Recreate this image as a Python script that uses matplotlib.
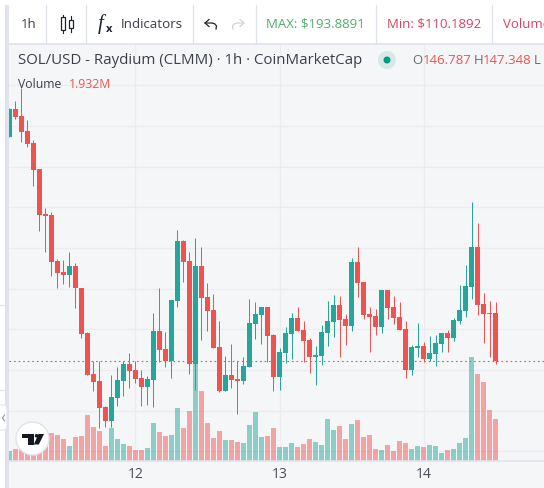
import matplotlib
matplotlib.use("Agg")
import matplotlib.pyplot as plt
from matplotlib.patches import Circle, FancyBboxPatch, Polygon, Rectangle

plt.rcParams["font.family"] = ["Open Sans", "DejaVu Sans"]

# candles
opens = [155.45, 156.83, 156.48, 155.74, 155.15, 153.88, 151.67, 151.62, 149.36, 148.82,
         148.67, 149.11, 148.03, 145.82, 143.80, 143.46, 142.18, 141.49, 142.62, 143.46,
         144.29, 144.00, 143.61, 143.17, 143.51, 145.92, 145.03, 144.44, 147.39, 150.34,
         149.36, 144.29, 149.11, 147.59, 146.95, 145.13, 142.97, 143.75, 143.56, 143.46,
         144.15, 146.26, 146.70, 147.10, 145.72, 143.66, 144.83, 145.77, 146.56, 145.97,
         145.47, 144.64, 144.69, 145.82, 146.36, 147.19, 146.51, 146.16, 149.31, 148.32,
         146.75, 146.65, 146.11, 147.93, 147.10, 146.60, 146.02, 144.00, 145.08, 145.18,
         144.54, 144.79, 145.28, 145.82, 145.57, 146.41, 146.90, 148.08, 150.04, 147.24,
         146.80, 146.787]
highs = [156.87, 157.22, 157.86, 156.29, 155.30, 153.88, 151.96, 151.76, 149.45, 149.40,
         149.80, 149.26, 148.03, 145.87, 144.44, 144.44, 142.23, 143.75, 144.15, 144.44,
         144.83, 144.44, 144.00, 143.71, 146.80, 148.03, 145.87, 147.44, 150.88, 150.39,
         149.80, 150.49, 150.04, 148.27, 147.73, 146.41, 144.69, 145.28, 144.44, 144.64,
         147.49, 147.34, 147.10, 147.10, 145.77, 145.08, 146.11, 146.80, 147.10, 146.41,
         145.57, 145.18, 146.21, 147.39, 147.69, 147.64, 146.75, 149.50, 150.04, 148.32,
         147.10, 147.00, 147.93, 147.93, 147.64, 147.34, 146.41, 145.23, 146.31, 145.38,
         145.67, 145.72, 145.82, 145.97, 146.56, 148.18, 149.16, 152.26, 151.22, 147.78,
         147.39, 147.348]
lows = [155.45, 156.33, 155.20, 154.96, 153.04, 150.83, 149.80, 148.62, 148.03, 148.23,
        148.08, 147.05, 145.57, 143.75, 142.97, 141.15, 141.20, 141.20, 142.23, 142.72,
        143.12, 143.36, 142.23, 142.28, 142.18, 144.39, 144.15, 143.61, 147.10, 148.32,
        143.80, 143.02, 145.47, 145.92, 145.08, 142.92, 142.97, 143.12, 141.84, 143.31,
        144.15, 145.52, 145.28, 144.39, 142.97, 143.02, 144.34, 144.54, 145.92, 144.39,
        143.85, 143.26, 144.25, 145.18, 145.62, 144.64, 145.23, 145.92, 147.59, 146.51,
        144.89, 145.72, 145.82, 146.51, 146.26, 145.97, 143.61, 143.75, 144.64, 144.39,
        144.44, 144.20, 144.89, 144.89, 145.43, 146.26, 146.60, 147.49, 146.70, 145.33,
        144.64, 144.30]
closes = [156.83, 156.43, 155.69, 155.11, 153.83, 151.62, 151.57, 149.31, 148.77, 148.67,
          149.11, 148.03, 145.77, 143.75, 143.41, 142.13, 141.49, 142.67, 143.51, 144.29,
          143.95, 143.56, 143.17, 143.56, 145.92, 144.98, 144.44, 147.44, 150.34, 149.31,
          144.29, 149.11, 147.54, 146.90, 145.08, 142.97, 143.75, 143.51, 143.46, 144.20,
          146.31, 146.75, 147.10, 145.67, 143.66, 144.89, 145.82, 146.56, 145.92, 145.43,
          144.64, 144.74, 145.87, 146.41, 147.19, 146.46, 146.16, 149.31, 148.27, 146.70,
          146.60, 146.11, 147.93, 147.05, 146.56, 145.97, 144.00, 145.13, 145.18, 144.54,
          144.83, 145.33, 145.82, 145.57, 146.46, 146.95, 148.13, 150.04, 147.19, 146.75,
          146.75, 144.43]
volumes = [0.47, 0.57, 0.55, 0.64, 0.78, 0.92, 1.15, 1.30, 1.21, 1.03,
           0.70, 1.12, 1.16, 2.13, 1.58, 1.39, 0.70, 1.53, 1.03, 0.80,
           0.69, 0.51, 0.51, 0.60, 1.75, 1.33, 1.15, 1.20, 2.44, 1.52,
           2.30, 4.46, 3.22, 1.75, 1.06, 1.38, 0.97, 0.97, 0.87, 0.83,
           1.66, 2.25, 1.10, 1.15, 1.52, 0.64, 0.64, 0.83, 0.64, 0.78,
           1.01, 0.87, 0.74, 1.93, 1.43, 1.61, 1.01, 1.70, 1.89, 1.10,
           1.20, 0.55, 0.51, 0.74, 0.46, 0.92, 0.83, 0.55, 0.69, 0.64,
           0.74, 0.69, 0.37, 0.51, 0.55, 0.83, 1.06, 4.78, 4.00, 3.63,
           2.35, 1.932]
day_positions = [21, 45, 69]
day_labels = ["12", "13", "14"]
price_grid = [140, 142, 144, 146, 148, 150, 152, 154, 156, 158]

W, H = 544, 488
UP = "#26a69a"
DOWN = "#ef5350"
BG = "#f5f6f8"
LINE = "#e0e3eb"
GRID = "#eaecf0"
TEXT = "#3c3f4a"

fig = plt.figure(figsize=(W / 100, H / 100), dpi=100, facecolor="white")
rect = [9 / W, (H - 461) / H, (W - 9) / W, (461 - 44) / H]
xlim = (-0.083, 89.083)
ylim = (139.53, 160.03)
vol_top = 19.18


def pane(zorder):
    a = fig.add_axes(rect, zorder=zorder)
    a.set_xlim(*xlim)
    for s in a.spines.values():
        s.set_visible(False)
    a.tick_params(length=0, labelleft=False, labelbottom=False)
    return a


# grid layer, volume layer, candle layer
ax_grid = pane(1)
ax_grid.set_facecolor(BG)
ax_grid.set_ylim(*ylim)
ax_grid.set_yticks(price_grid)
ax_grid.set_xticks(day_positions)
ax_grid.grid(True, color=GRID, linewidth=0.9)

ax_vol = pane(2)
ax_vol.patch.set_visible(False)
ax_vol.set_ylim(0, vol_top)
ax_vol.set_yticks([])
ax_vol.set_xticks([])

ax = pane(3)
ax.patch.set_visible(False)
ax.set_ylim(*ylim)
ax.set_yticks([])
ax.set_xticks([])

xs = list(range(len(closes)))
colors = [UP if c >= o else DOWN for o, c in zip(opens, closes)]
ax_vol.bar(xs, volumes, width=0.86, color=colors, alpha=0.5, linewidth=0)
ax.vlines(xs, lows, highs, colors=colors, linewidth=0.72)
ax.bar(xs, [max(abs(c - o), 0.04) for o, c in zip(opens, closes)],
       bottom=[min(o, c) for o, c in zip(opens, closes)],
       width=0.86, color=colors, linewidth=0)
ax.axhline(closes[-1], color=DOWN, linewidth=0.8, linestyle=(0, (1.5, 2.6)))

# page chrome in pixel coordinates
ui = fig.add_axes([0, 0, 1, 1], zorder=5)
ui.set_xlim(0, W)
ui.set_ylim(H, 0)
ui.axis("off")
ui.patch.set_visible(False)

ui.add_patch(Rectangle((9, 461), W - 9, H - 461, color=BG, linewidth=0))
ui.plot([9, W], [461, 461], color=LINE, linewidth=1.2)
ui.add_patch(Rectangle((5, 5), 4, H - 5, color=LINE, linewidth=0))
ui.plot([9, W], [43.5, 43.5], color=LINE, linewidth=1.2)
for sx in [46, 86, 193, 256, 376, 492]:
    ui.plot([sx, sx], [5, 43], color=LINE, linewidth=0.9)

ui.text(21, 24.5, "1h", fontsize=9.5, color=TEXT, va="center")
ui.text(121, 24.5, "Indicators", fontsize=9.6, color=TEXT, va="center")
ui.text(266, 24.5, "MAX: $193.8891", fontsize=9.5, color="#4caf6b", va="center")
ui.text(387, 24.5, "Min: $110.1892", fontsize=9.5, color="#e0405f", va="center")
ui.text(503, 24.5, "Volume", fontsize=9.5, color="#e0405f", va="center", clip_on=True)

# candle icon
ui.plot([62.5, 62.5], [15, 33], color="#1e222d", linewidth=0.8)
ui.add_patch(Rectangle((60.5, 17), 4, 13, facecolor="white", edgecolor="#1e222d", linewidth=0.9, zorder=3))
ui.plot([70.5, 70.5], [16, 32], color="#1e222d", linewidth=0.8)
ui.add_patch(Rectangle((68.5, 20), 4, 8, facecolor="white", edgecolor="#1e222d", linewidth=0.9, zorder=3))

# fx icon
ui.text(98, 24, "f", fontsize=15, style="italic", family="Liberation Serif", color="#1e222d", va="center")
ui.text(106, 29, "x", fontsize=8, weight="bold", color="#1e222d", va="center")

# undo and redo
ux = [216, 216.5, 215, 212, 205]
uy = [29, 26, 24, 23, 23]
ui.plot(ux, uy, color="#1e222d", linewidth=0.9)
ui.plot([209, 205, 209], [19.5, 23, 26.5], color="#1e222d", linewidth=0.9)
rx = [449 - v for v in ux]
ui.plot(rx, uy, color="#d1d4dc", linewidth=0.9)
ui.plot([240, 244, 240], [19.5, 23, 26.5], color="#d1d4dc", linewidth=0.9)

# legend rows
ui.text(18, 60.5, "SOL/USD - Raydium (CLMM) · 1h · CoinMarketCap", fontsize=10.85, color=TEXT, va="center")
ui.add_patch(Circle((387, 60), 9, color="#d5eae8", linewidth=0))
ui.add_patch(Circle((387, 60), 3.5, color="#089981", linewidth=0))
ui.text(412, 61, "O", fontsize=9.5, color="#6a6d78", va="center")
ui.text(423, 61, "146.787", fontsize=9.5, color=DOWN, va="center")
ui.text(474, 61, "H", fontsize=9.5, color="#6a6d78", va="center")
ui.text(483, 61, "147.348", fontsize=9.5, color=DOWN, va="center")
ui.text(534, 61, "L", fontsize=9.5, color="#6a6d78", va="center")
ui.text(18, 84, "Volume", fontsize=8.8, color=TEXT, va="center")
ui.text(69, 84, "1.932M", fontsize=8.8, color=DOWN, va="center")

# day labels from the time scale
for pos, label in zip(day_positions, day_labels):
    px = 9 + (pos - xlim[0]) / (xlim[1] - xlim[0]) * (W - 9)
    ui.text(px, 475, label, fontsize=10, color="#4a4d58", ha="center", va="center")

# logo badge
ui.add_patch(Circle((32.5, 438.5), 16.5, facecolor="white", edgecolor=LINE, linewidth=1, zorder=6))
ui.add_patch(Polygon([(21.7, 434), (34, 434), (34, 444.5), (28, 444.5), (28, 437.6), (21.7, 437.6)],
                     color="#131722", linewidth=0, zorder=7))
ui.add_patch(Circle((36.6, 435.8), 1.8, color="#131722", linewidth=0, zorder=7))
ui.add_patch(Polygon([(38.5, 434), (44, 434), (38.8, 444.5), (33.8, 444.5)], color="#131722", linewidth=0, zorder=7))

# collapse tab
ui.add_patch(FancyBboxPatch((-3, 405), 10, 25, boxstyle="round,pad=0,rounding_size=3",
                            facecolor="white", edgecolor=LINE, linewidth=0.8, zorder=6))
ui.plot([4.5, 2.5, 4.5], [415, 418, 421], color="#a0a3ad", linewidth=0.9, zorder=7)
ui.plot([0, 5], [305, 305], color=LINE, linewidth=0.8)
ui.plot([0, 5], [390, 390], color=LINE, linewidth=0.8)

fig.savefig("out.png", dpi=100, facecolor="white")
